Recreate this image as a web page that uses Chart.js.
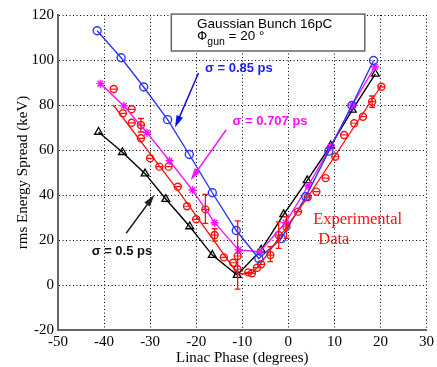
<!DOCTYPE html>
<html>
<head>
<meta charset="utf-8">
<script src="https://cdn.jsdelivr.net/npm/chart.js@4.4.0/dist/chart.umd.min.js"></script>
<style>
  body { margin: 0; background: #fff; }
</style>
</head>
<body>
<canvas id="myChart" width="437" height="367"></canvas>
<script>
// simulations, sigma = 0.85 ps
const blueX = [-41.5, -36.3, -31.4, -26.2, -21.5, -16.5, -11.3, -6.4, -1.5, 3.8, 8.8, 13.8, 18.5]
const blueY = [113, 101, 88, 73.5, 58, 41, 24.2, 11.8, 20.6, 39.3, 59.5, 79.8, 99.8]

// sigma = 0.707 ps
const magentaX = [-40.8, -35.7, -30.7, -25.8, -20.8, -16, -10.8, -6.2, -0.6, 4.3, 9.2, 13.9, 18.8]
const magentaY = [89.5, 79.6, 67.7, 55.2, 42.2, 27.7, 15.6, 14.8, 27.7, 44, 61.5, 80, 97]

// sigma = 0.5 ps
const blackX = [-41.2, -36, -31.1, -26.6, -21.4, -16.5, -11.1, -5.9, -1, 4.1, 9.2, 13.9, 18.9]
const blackY = [68, 59, 49.5, 38.2, 26, 13.3, 4.4, 15.6, 31.4, 46.5, 62, 77.8, 93.8]

// experimental data
const dataX = [-37.9, -35.9, -34, -34, -32, -32, -30, -28, -26, -24, -22, -20, -18, -16, -14, -12, -11, -11,
  -8.7, -7.9, -6.8, -5.9, -3.9, -2.1, -0.4, 2.1, 4.2, 6.1, 8.1, 10.2, 12.1, 14.3, 16.2, 18.2, 20.2]
const dataY = [87.1, 76.3, 78.1, 72.1, 71.1, 65.2, 56.3, 52.6, 52.6, 43.7, 35, 29.2, 33.6, 22.2, 12.3, 9.9, 12.9, 7,
  5.6, 5.2, 7.7, 9.2, 13.3, 22.2, 25.9, 32.6, 39, 41.5, 47.5, 57, 66.7, 71.9, 74.8, 81.5, 88.1]

// error bars on some of the measurements
const errX = [-32, -18, -16, -11, -3.9, -2.1, -0.4, 18.2]
const errLo = [68, 27.4, 19.5, -1.8, 10.4, 16.3, 20.7, 79]
const errHi = [74, 40.3, 25, 28.5, 17, 28.1, 30.4, 84]

// red line through the measurements
const fitX = [-38, -24, -11, -8, -6, 4.3, 20.3]
const fitY = [80, 42.2, 5, 5, 9.5, 39.3, 89]

const xTicks = [-50, -40, -30, -20, -10, 0, 10, 20, 30]
const yTicks = [-20, 0, 20, 40, 60, 80, 100, 120]

const blue = '#2a35ff'
const magenta = '#ff10ff'
const red = '#ff1010'

const toPoints = (xs, ys) => xs.map((v, i) => ({x: v, y: ys[i]}))

const labels = [
  {text: 'σ = 0.85 ps', x: -18.1, y: 96.4, color: '#1a22f0'},
  {text: 'σ = 0.707 ps', x: -12.1, y: 72.6, color: magenta},
  {text: 'σ = 0.5 ps', x: -42.7, y: 14.8, color: '#111'}
]
const arrows = [
  {from: [-19.5, 94.2], to: [-24.6, 70], color: '#1010e0'},
  {from: [-13.5, 68.9], to: [-21.2, 46.7], color: magenta},
  {from: [-35.2, 23], to: [-29.1, 40], color: '#222'}
]

function arrow(ctx, x0, y0, x1, y1, color) {
  const a = Math.atan2(y1 - y0, x1 - x0)
  const c = Math.cos(a), s = Math.sin(a)
  ctx.strokeStyle = color
  ctx.fillStyle = color
  ctx.lineWidth = 1.5
  ctx.beginPath()
  ctx.moveTo(x0, y0)
  ctx.lineTo(x1 - 8 * c, y1 - 8 * s)
  ctx.stroke()
  ctx.beginPath()
  ctx.moveTo(x1, y1)
  ctx.lineTo(x1 - 12 * c + 3.5 * s, y1 - 12 * s - 3.5 * c)
  ctx.lineTo(x1 - 12 * c - 3.5 * s, y1 - 12 * s + 3.5 * c)
  ctx.closePath()
  ctx.fill()
}

const errorBars = {
  id: 'errorBars',
  afterDatasetsDraw(chart) {
    const {ctx, scales: {x, y}} = chart
    ctx.save()
    ctx.strokeStyle = red
    ctx.lineWidth = 1.3
    errX.forEach((v, i) => {
      const px = x.getPixelForValue(v)
      const top = y.getPixelForValue(errHi[i])
      const bot = y.getPixelForValue(errLo[i])
      ctx.beginPath()
      ctx.moveTo(px, top); ctx.lineTo(px, bot)
      ctx.moveTo(px - 3, top); ctx.lineTo(px + 3, top)
      ctx.moveTo(px - 3, bot); ctx.lineTo(px + 3, bot)
      ctx.stroke()
    })
    ctx.restore()
  }
}

const notes = {
  id: 'notes',
  afterDraw(chart) {
    const {ctx, scales: {x, y}} = chart
    ctx.save()

    // legend box
    const bx0 = x.getPixelForValue(-25.4), bx1 = x.getPixelForValue(16.6)
    const by0 = y.getPixelForValue(120.4), by1 = y.getPixelForValue(104)
    ctx.fillStyle = '#fff'
    ctx.fillRect(bx0, by0, bx1 - bx0, by1 - by0)
    ctx.strokeStyle = '#666'
    ctx.lineWidth = 1.5
    ctx.strokeRect(bx0, by0, bx1 - bx0, by1 - by0)

    ctx.fillStyle = '#000'
    ctx.textBaseline = 'middle'
    ctx.textAlign = 'left'
    ctx.font = '13.5px "Liberation Sans", Arial, sans-serif'
    ctx.fillText('Gaussian Bunch 16pC', x.getPixelForValue(-19.8), y.getPixelForValue(116))
    let tx = x.getPixelForValue(-19.8)
    const ty = y.getPixelForValue(110.4)
    ctx.font = '13px "DejaVu Sans", sans-serif'
    ctx.fillText('Φ', tx, ty)
    tx += ctx.measureText('Φ').width
    ctx.font = '10.5px "Liberation Sans", Arial, sans-serif'
    ctx.fillText('gun', tx, ty + 6)
    tx += ctx.measureText('gun').width
    ctx.font = '13.5px "Liberation Sans", Arial, sans-serif'
    ctx.fillText(' = 20 °', tx, ty)

    // sigma labels and arrows
    ctx.font = 'bold 13px "Liberation Sans", Arial, sans-serif'
    labels.forEach(l => {
      ctx.fillStyle = l.color
      ctx.fillText(l.text, x.getPixelForValue(l.x), y.getPixelForValue(l.y))
    })
    arrows.forEach(a => {
      arrow(ctx, x.getPixelForValue(a.from[0]), y.getPixelForValue(a.from[1]),
        x.getPixelForValue(a.to[0]), y.getPixelForValue(a.to[1]), a.color)
    })

    ctx.fillStyle = red
    ctx.font = '16.5px "Liberation Serif", "Times New Roman", serif'
    ctx.fillText('Experimental', x.getPixelForValue(5.4), y.getPixelForValue(28.9))
    ctx.fillText('Data', x.getPixelForValue(6.5), y.getPixelForValue(20))
    ctx.restore()
  }
}

const ctx = document.getElementById('myChart').getContext('2d')

const tickFont = {family: '"Liberation Serif", "Times New Roman", serif', size: 15}

new Chart(ctx, {
  type: 'scatter',
  data: {
    datasets: [
      {
        data: toPoints(fitX, fitY),
        showLine: true,
        borderColor: red,
        borderWidth: 1.3,
        pointRadius: 0
      },
      {
        data: toPoints(blueX, blueY),
        showLine: true,
        borderColor: blue,
        borderWidth: 1.4,
        pointStyle: 'circle',
        pointRadius: 4,
        pointBorderWidth: 1.4,
        pointBackgroundColor: 'rgba(0,0,0,0)',
        pointBorderColor: blue
      },
      {
        data: toPoints(magentaX, magentaY),
        showLine: true,
        borderColor: magenta,
        borderWidth: 1.4,
        pointStyle: 'star',
        pointRadius: 4,
        pointBorderWidth: 1.4,
        pointBorderColor: magenta
      },
      {
        data: toPoints(blackX, blackY),
        showLine: true,
        borderColor: '#000',
        borderWidth: 1.4,
        pointStyle: 'triangle',
        pointRadius: 4.5,
        pointBorderWidth: 1.3,
        pointBackgroundColor: 'rgba(0,0,0,0)',
        pointBorderColor: '#000'
      },
      {
        data: toPoints(dataX, dataY),
        showLine: false,
        pointStyle: 'circle',
        pointRadius: 3.5,
        pointBorderWidth: 1.4,
        pointBackgroundColor: 'rgba(0,0,0,0)',
        pointBorderColor: red
      },
      {
        data: toPoints(dataX, dataY),
        showLine: false,
        pointStyle: 'line',
        pointRadius: 3.5,
        pointBorderWidth: 1.2,
        pointBorderColor: red
      }
    ]
  },
  options: {
    responsive: false,
    animation: false,
    layout: {padding: {top: 15, right: 8, left: 0, bottom: 0}},
    plugins: {
      legend: {display: false},
      tooltip: {enabled: false}
    },
    scales: {
      x: {
        min: -50,
        max: 30,
        afterBuildTicks: s => { s.ticks = xTicks.map(v => ({value: v})) },
        afterFit: s => { s.height = 37 },
        grid: {color: '#000', lineWidth: 1, drawTicks: false},
        border: {display: true, color: '#666', width: 2, dash: [1, 2.5]},
        ticks: {color: '#000', font: tickFont, padding: 3, maxRotation: 0},
        title: {display: true, text: 'Linac Phase (degrees)', color: '#000', font: tickFont, padding: {top: 0, bottom: 0}}
      },
      y: {
        min: -20,
        max: 120,
        afterBuildTicks: s => { s.ticks = yTicks.map(v => ({value: v})) },
        afterFit: s => { s.width = 58 },
        grid: {color: '#000', lineWidth: 1, drawTicks: false},
        border: {display: true, color: '#666', width: 2, dash: [1, 2.5]},
        ticks: {color: '#000', font: tickFont, padding: 4},
        title: {display: true, text: 'rms Energy Spread (keV)', color: '#000', font: tickFont, padding: {top: 14, bottom: 0}}
      }
    }
  },
  plugins: [errorBars, notes]
})
</script>
</body>
</html>
